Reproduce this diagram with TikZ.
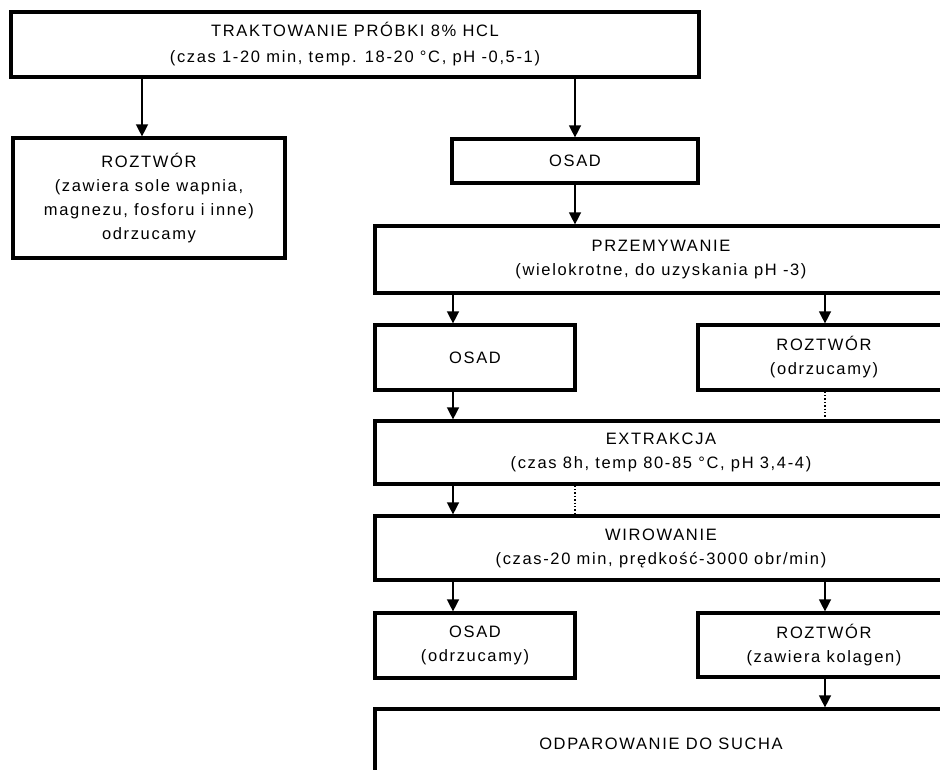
\documentclass[tikz,border=0pt]{standalone}
\usepackage{fontspec}
\setmainfont{Liberation Sans}[LetterSpace=10]
\usepackage{tikz}
\usetikzlibrary{positioning, arrows.meta}

\begin{document}
\begin{tikzpicture}[
  x=1pt, y=-1pt,
  font=\fontsize{16.5}{24}\selectfont,
  box/.style={draw, line width=3.2pt, inner sep=0pt, align=center},
  flow/.style={-{Triangle[length=12pt, width=12pt]}, line width=1.4pt},
  rest/.style={dotted, line width=1.4pt},
]
\useasboundingbox (0,0) rectangle (940,770);
% columns of the connectors
\coordinate (scol) at (142,0);
\coordinate (lcol) at (453,0);
\coordinate (mcol) at (575,0);
\coordinate (rcol) at (825,0);
% first step
\node[box, minimum width=688pt, minimum height=65pt] (treat) at (355,44.5)
  {TRAKTOWANIE PRÓBKI 8\% HCL\\[2pt](czas 1-20 min, temp. 18-20 °C, pH -0,5-1)};
\node[box, minimum width=272pt, minimum height=120pt] (sol1) at (149,198)
  {ROZTWÓR\\(zawiera sole wapnia,\\magnezu, fosforu i inne)\\odrzucamy};
\node[box, minimum width=246pt, minimum height=44pt] (osad1) at (575,161) {OSAD};
% washing
\node[box, minimum width=572pt, minimum height=67pt] (rinse) at (661,259.5)
  {PRZEMYWANIE\\(wielokrotne, do uzyskania pH -3)};
\node[box, minimum width=200pt, minimum height=65pt] (osad2) at (475,357.5) {OSAD};
\node[box, minimum width=252pt, minimum height=65pt] (sol2) at (824,357.5)
  {ROZTWÓR\\(odrzucamy)};
% extraction and spinning
\node[box, minimum width=572pt, minimum height=63pt] (extr) at (661,452.5)
  {EXTRAKCJA\\(czas 8h, temp 80-85 °C, pH 3,4-4)};
\node[box, minimum width=572pt, minimum height=64pt] (spin) at (661,548)
  {WIROWANIE\\(czas-20 min, prędkość-3000 obr/min)};
\node[box, minimum width=200pt, minimum height=65pt] (osad3) at (475,645.5)
  {OSAD\\(odrzucamy)};
\node[box, minimum width=252pt, minimum height=64pt] (sol3) at (824,645)
  {ROZTWÓR\\(zawiera kolagen)};
\node[box, minimum width=572pt, minimum height=69pt] (dry) at (661,743.5)
  {ODPAROWANIE DO SUCHA};
% connectors
\draw[flow] (treat.south -| scol) -- (sol1.north -| scol);
\draw[flow] (treat.south -| mcol) -- (osad1.north -| mcol);
\draw[flow] (osad1.south -| mcol) -- (rinse.north -| mcol);
\draw[flow] (rinse.south -| lcol) -- (osad2.north -| lcol);
\draw[flow] (rinse.south -| rcol) -- (sol2.north -| rcol);
\draw[flow] (osad2.south -| lcol) -- (extr.north -| lcol);
\draw[rest] (sol2.south -| rcol) -- (extr.north -| rcol);
\draw[flow] (extr.south -| lcol) -- (spin.north -| lcol);
\draw[rest] (extr.south -| mcol) -- (spin.north -| mcol);
\draw[flow] (spin.south -| lcol) -- (osad3.north -| lcol);
\draw[flow] (spin.south -| rcol) -- (sol3.north -| rcol);
\draw[flow] (sol3.south -| rcol) -- (dry.north -| rcol);
\end{tikzpicture}
\end{document}
